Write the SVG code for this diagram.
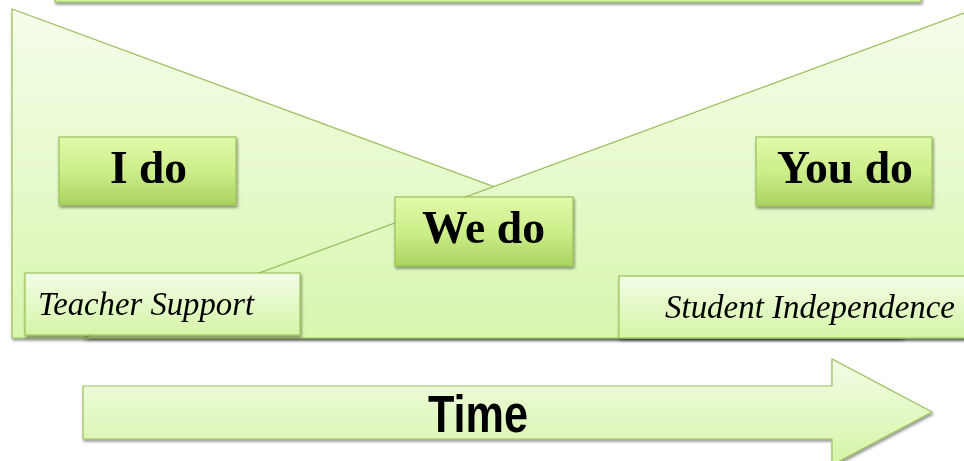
<svg xmlns="http://www.w3.org/2000/svg" width="964" height="461" viewBox="0 0 964 461">
<style>
.tri{stroke:#98bd55;stroke-width:1.2;fill:url(#gTri)}
.box{stroke:#9cc25c;stroke-width:1.2;fill:url(#gBox)}
.lbl{stroke:#9cc25c;stroke-width:1.2;fill:url(#gLbl)}
.big{font-family:"Liberation Serif","Times New Roman",serif;font-weight:bold;font-size:46px;fill:#000}
.ita{font-family:"Liberation Serif","Times New Roman",serif;font-style:italic;font-size:34px;fill:#000}
.time{font-family:"Liberation Sans",Arial,sans-serif;font-weight:bold;font-size:51px;fill:#000}
</style>
<defs>
<linearGradient id="gTri" x1="0" y1="0" x2="0" y2="1">
<stop offset="0" stop-color="#f4fdea"/><stop offset="1" stop-color="#d9f6ae"/>
</linearGradient>
<linearGradient id="gBox" x1="0" y1="0" x2="0" y2="1">
<stop offset="0" stop-color="#e2f9aa"/><stop offset="0.5" stop-color="#cdee8a"/><stop offset="1" stop-color="#a9d35f"/>
</linearGradient>
<linearGradient id="gLbl" x1="0" y1="0" x2="0" y2="1">
<stop offset="0" stop-color="#f2fde6"/><stop offset="1" stop-color="#d6f4a6"/>
</linearGradient>
<filter id="sh" x="-10%" y="-10%" width="120%" height="130%">
<feGaussianBlur in="SourceAlpha" stdDeviation="1.5"/>
<feOffset dx="1" dy="2" result="b"/>
<feComponentTransfer><feFuncA type="linear" slope="0.45"/></feComponentTransfer>
<feMerge><feMergeNode/><feMergeNode in="SourceGraphic"/></feMerge>
</filter>
</defs>
<g id="top-bar" filter="url(#sh)">
<rect x="55" y="-40" width="866" height="42" class="lbl"/>
</g>
<g id="teacher-triangle" filter="url(#sh)">
<polygon class="tri" points="12,9 12,338 904,338"/>
</g>
<g id="student-triangle" filter="url(#sh)">
<polygon class="tri" points="975,9 975,338 83,338"/>
</g>
<g id="connectors"></g>
<g id="i-do" filter="url(#sh)">
<rect class="box" x="59" y="137" width="177" height="68"/>
<text class="big" x="110" y="183" textLength="77" lengthAdjust="spacingAndGlyphs">I do</text>
</g>
<g id="we-do" filter="url(#sh)">
<rect class="box" x="395" y="197" width="178" height="69"/>
<text class="big" x="422" y="243" textLength="123" lengthAdjust="spacingAndGlyphs">We do</text>
</g>
<g id="you-do" filter="url(#sh)">
<rect class="box" x="756" y="137" width="176" height="69"/>
<text class="big" x="777" y="183" textLength="136" lengthAdjust="spacingAndGlyphs">You do</text>
</g>
<g id="teacher-support" filter="url(#sh)">
<rect class="lbl" x="25" y="273" width="275" height="62"/>
<text class="ita" x="38" y="315" textLength="216" lengthAdjust="spacingAndGlyphs">Teacher Support</text>
</g>
<g id="student-independence" filter="url(#sh)">
<rect class="lbl" x="619" y="276" width="370" height="62"/>
<text class="ita" x="665" y="318" textLength="290" lengthAdjust="spacingAndGlyphs">Student Independence</text>
</g>
<g id="time-arrow" filter="url(#sh)">
<polygon class="lbl" points="83,386 832,386 832,359 932,412 832,465 832,439 83,439"/>
<text class="time" x="428" y="432" textLength="100" lengthAdjust="spacingAndGlyphs">Time</text>
</g>
</svg>
